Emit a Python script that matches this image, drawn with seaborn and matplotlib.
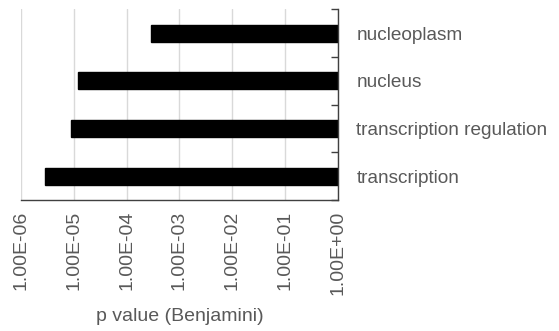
import numpy as np
import pandas as pd
import matplotlib
matplotlib.use("Agg")
import matplotlib.pyplot as plt
import seaborn as sns

# GO terms, top to bottom, and their Benjamini-adjusted p values
terms = ["nucleoplasm", "nucleus", "transcription regulation", "transcription"]
pvalues = [2.9e-4, 1.2e-5, 8.9e-6, 2.9e-6]
exponents = [-6, -5, -4, -3, -2, -1, 0]
tick_labels = ["1.00E-06", "1.00E-05", "1.00E-04", "1.00E-03",
               "1.00E-02", "1.00E-01", "1.00E+00"]

df = pd.DataFrame({"term": terms, "p": pvalues})
df["neglog"] = -np.log10(df["p"])

sns.set_style("white")
plt.rcParams["font.family"] = ["Liberation Sans", "DejaVu Sans"]
text_color = "#595959"

fig = plt.figure(figsize=(5.59, 3.31), dpi=100)
ax = fig.add_axes([0.037, 0.396, 0.568, 0.576])

sns.barplot(data=df, x="neglog", y="term", order=terms, color="black",
            width=0.36, orient="h", ax=ax, edgecolor="black")

# axis runs from 1E-06 on the left to 1E+00 on the right
ax.set_xlim(6, 0)
ax.set_xticks([-e for e in exponents])
ax.set_xticklabels(tick_labels, rotation=90, color=text_color, fontsize=14)
ax.xaxis.grid(True, color="#d9d9d9", linewidth=1)
ax.set_axisbelow(True)
ax.tick_params(axis="x", direction="out", length=4, width=1, color="#404040", pad=4)
ax.set_xlabel("p value (Benjamini)", color=text_color, fontsize=14, labelpad=9)

# categories: boundary ticks on the right spine, labels at centres
ax.set_ylim(len(terms) - 0.5, -0.5)
ax.yaxis.tick_right()
ax.set_yticks(np.arange(len(terms) + 1) - 0.5)
ax.set_yticklabels([])
ax.set_yticks(np.arange(len(terms)), minor=True)
ax.set_yticklabels(terms, minor=True, color=text_color, fontsize=13.7)
ax.tick_params(axis="y", which="major", direction="in", length=5, width=1, color="#404040")
ax.tick_params(axis="y", which="minor", length=0, pad=13)
ax.set_ylabel("")

for side in ["top", "left"]:
    ax.spines[side].set_visible(False)
for side in ["right", "bottom"]:
    ax.spines[side].set_color("#404040")
    ax.spines[side].set_linewidth(1)

fig.savefig("out.png", dpi=100)
